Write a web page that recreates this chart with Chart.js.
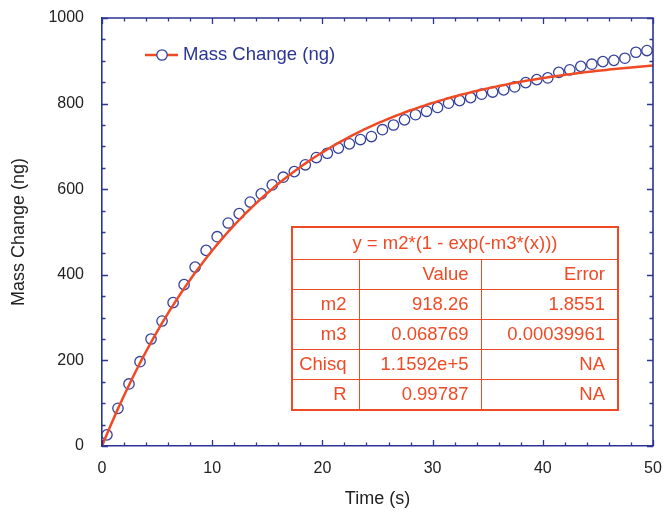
<!DOCTYPE html>
<html><head><meta charset="utf-8">
<script src="https://cdn.jsdelivr.net/npm/chart.js@4.4.1/dist/chart.umd.min.js"></script>
<style>
html,body{margin:0;padding:0;background:#fff;}
#wrap{position:relative;width:665px;height:513px;}
canvas{display:block;}
#fit{position:absolute;left:291px;top:226px;border-collapse:collapse;table-layout:fixed;
  border:2.5px solid #f04a25;font-family:'Liberation Sans',Arial,sans-serif;font-size:18.5px;color:#f04a25;}
#fit td{border:1.3px solid #f04a25;padding:0 12px 0 0;text-align:right;white-space:nowrap;line-height:1;}
#fit td.ttl{text-align:center;padding:0;}
</style></head>
<body><div id="wrap"><canvas id="c" width="665" height="513"></canvas><table id="fit"></table></div>
<script>
// ---- data ----
const times = [0.45,1.45,2.45,3.45,4.45,5.45,6.45,7.45,8.45,9.45,
  10.45,11.45,12.45,13.45,14.45,15.45,16.45,17.45,18.45,19.45,
  20.45,21.45,22.45,23.45,24.45,25.45,26.45,27.45,28.45,29.45,
  30.45,31.45,32.45,33.45,34.45,35.45,36.45,37.45,38.45,39.45,
  40.45,41.45,42.45,43.45,44.45,45.45,46.45,47.45,48.45,49.45];
const massChange = [26,88,145,197,250,292,335,377,418,457,
  489,521,543,570,589,610,628,641,657,674,
  684,696,706,716,723,739,750,762,774,782,
  791,801,807,814,822,827,832,839,849,856,
  860,873,879,887,892,898,901,906,920,924];
const seriesName = 'Mass Change (ng)';
const xTitle = 'Time (s)';
const yTitle = 'Mass Change (ng)';
const xRange = [0, 50];
const yRange = [0, 1000];
const fitEquation = 'y = m2*(1 - exp(-m3*(x)))';
const fitHeader = ['', 'Value', 'Error'];
const fitNames = ['m2', 'm3', 'Chisq', 'R'];
const fitValues = ['918.26', '0.068769', '1.1592e+5', '0.99787'];
const fitErrors = ['1.8551', '0.00039961', 'NA', 'NA'];

// fitted model curve from the reported parameters
const m2 = parseFloat(fitValues[0]), m3 = parseFloat(fitValues[1]);
const fitCurve = [];
for (let k = 0; k <= 200; k++) { const x = k * 0.25; fitCurve.push({x, y: m2 * (1 - Math.exp(-m3 * x))}); }

// ---- table ----
const tbl = document.getElementById('fit');
const colW = [67, 122, 137];
tbl.innerHTML = '<colgroup>' + colW.map(w => `<col style="width:${w}px">`).join('') + '</colgroup>';
const rowH = [32, 30, 30, 30, 30, 31];
let html = `<tr style="height:${rowH[0]}px"><td class="ttl" colspan="3">${fitEquation}</td></tr>`;
html += `<tr style="height:${rowH[1]}px">` + fitHeader.map(h => `<td>${h}</td>`).join('') + '</tr>';
fitNames.forEach((n, i) => {
  html += `<tr style="height:${rowH[i+2]}px"><td>${n}</td><td>${fitValues[i]}</td><td>${fitErrors[i]}</td></tr>`;
});
tbl.innerHTML += html;

// ---- chart ----
const FONT = "'Liberation Sans', Arial, sans-serif";
const AXIS = '#2b3593';
const RED = '#f04a25';
const PT = '#34409c';
const CLEAR = 'rgba(0,0,0,0)';

const framePlugin = {
  id: 'frame',
  afterDatasetsDraw(chart) {
    const {ctx, chartArea: a, scales: {x, y}} = chart;
    ctx.save();
    ctx.strokeStyle = AXIS; ctx.lineWidth = 1.6;
    ctx.beginPath();
    ctx.moveTo(a.left, a.top); ctx.lineTo(a.right, a.top); ctx.lineTo(a.right, a.bottom);
    ctx.stroke();
    ctx.lineWidth = 1.3;
    ctx.beginPath();
    for (let v = xRange[0]; v <= xRange[1]; v += 2) {
      const px = Math.round(x.getPixelForValue(v)) + 0.5;
      const len = v % 10 === 0 ? 6 : 3.5;
      ctx.moveTo(px, a.bottom); ctx.lineTo(px, a.bottom - len);
      ctx.moveTo(px, a.top); ctx.lineTo(px, a.top + len);
    }
    for (let v = yRange[0]; v <= yRange[1]; v += 50) {
      const py = Math.round(y.getPixelForValue(v)) + 0.5;
      const len = v % 200 === 0 ? 6 : 3.5;
      ctx.moveTo(a.left, py); ctx.lineTo(a.left + len, py);
      ctx.moveTo(a.right, py); ctx.lineTo(a.right - len, py);
    }
    ctx.stroke();
    // legend
    const lx = a.left + 43, ly = a.top + 37;
    ctx.strokeStyle = RED; ctx.lineWidth = 2.5;
    ctx.beginPath(); ctx.moveTo(lx, ly); ctx.lineTo(lx + 33, ly); ctx.stroke();
    ctx.fillStyle = '#fff'; ctx.strokeStyle = PT; ctx.lineWidth = 1.3;
    ctx.beginPath(); ctx.arc(lx + 17, ly, 5.2, 0, Math.PI * 2); ctx.fill(); ctx.stroke();
    ctx.fillStyle = AXIS; ctx.font = '18.5px ' + FONT; ctx.textBaseline = 'middle'; ctx.textAlign = 'left';
    ctx.fillText(seriesName, lx + 38, ly);
    ctx.restore();
  }
};

new Chart(document.getElementById('c'), {
  type: 'scatter',
  data: {
    datasets: [
      { label: 'fit', data: fitCurve, showLine: true, pointRadius: 0, borderColor: RED, borderWidth: 2.5, order: 0 },
      { label: seriesName, data: times.map((t, i) => ({x: t, y: massChange[i]})), showLine: false,
        pointStyle: 'circle', pointRadius: 5.2, pointBorderWidth: 1.3, pointBorderColor: PT,
        pointBackgroundColor: 'rgba(255,255,255,0)', order: 1 }
    ]
  },
  options: {
    responsive: false, animation: false, devicePixelRatio: 1,
    layout: {padding: {top: 18, right: 12, left: 0, bottom: 0}},
    plugins: {legend: {display: false}, tooltip: {enabled: false}},
    scales: {
      x: {
        type: 'linear', min: xRange[0], max: xRange[1],
        ticks: {stepSize: 10, padding: 0, color: '#222', font: {family: FONT, size: 16}, maxRotation: 0,
                callback: v => String(v)},
        grid: {display: true, drawOnChartArea: false, drawTicks: true, tickLength: 13, tickColor: CLEAR, color: CLEAR},
        border: {display: true, color: AXIS, width: 1.6},
        title: {display: true, text: xTitle, color: '#222', font: {family: FONT, size: 18}, padding: {top: 0, bottom: 3}},
        afterFit(s) { s.height = 67; }
      },
      y: {
        type: 'linear', min: yRange[0], max: yRange[1],
        ticks: {stepSize: 200, padding: 0, color: '#222', font: {family: FONT, size: 16},
                callback: v => String(v)},
        grid: {display: true, drawOnChartArea: false, drawTicks: true, tickLength: 18, tickColor: CLEAR, color: CLEAR},
        border: {display: true, color: AXIS, width: 1.6},
        title: {display: true, text: yTitle, color: '#222', font: {family: FONT, size: 18}, padding: {top: 8, bottom: 0}},
        afterFit(s) { s.width = 102; }
      }
    }
  },
  plugins: [framePlugin]
});
</script>
</body></html>
